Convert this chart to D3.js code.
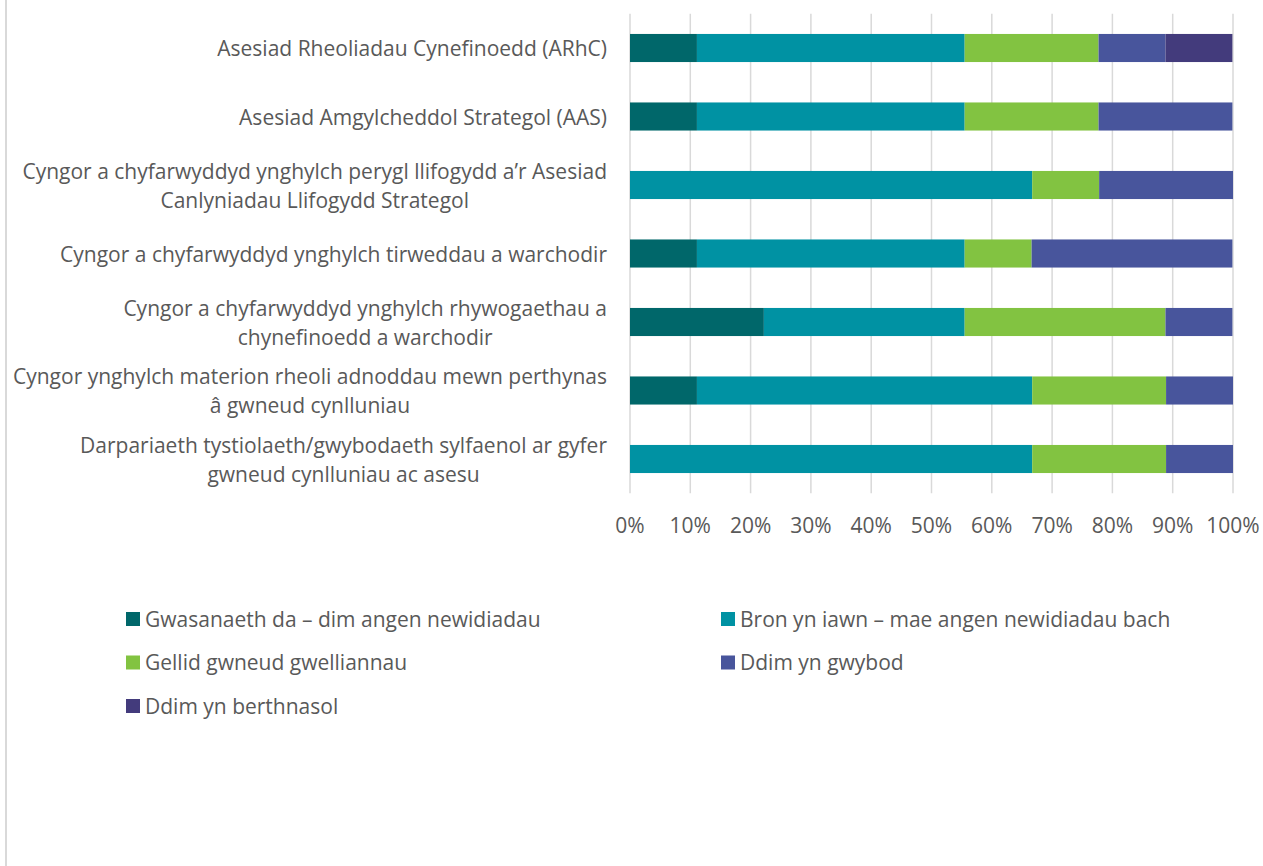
<!DOCTYPE html>
<html>
<head>
<meta charset="utf-8">
<script src="https://cdn.jsdelivr.net/npm/d3@7"></script>
<style>
  body { margin: 0; background: #fff; }
  svg text { font-family: "Open Sans", "Noto Sans", sans-serif; fill: #595959; font-size: 21px; }
</style>
</head>
<body>
<div id="chart"></div>
<script>
// categories, top to bottom (each entry = wrapped lines of the label)
const categories = [
  ['Asesiad Rheoliadau Cynefinoedd (ARhC)'],
  ['Asesiad Amgylcheddol Strategol (AAS)'],
  ['Cyngor a chyfarwyddyd ynghylch perygl llifogydd a\u2019r Asesiad', 'Canlyniadau Llifogydd Strategol'],
  ['Cyngor a chyfarwyddyd ynghylch tirweddau a warchodir'],
  ['Cyngor a chyfarwyddyd ynghylch rhywogaethau a', 'chynefinoedd a warchodir'],
  ['Cyngor ynghylch materion rheoli adnoddau mewn perthynas', '\u00e2 gwneud cynlluniau'],
  ['Darpariaeth tystiolaeth/gwybodaeth sylfaenol ar gyfer', 'gwneud cynlluniau ac asesu']
];

const seriesNames = [
  'Gwasanaeth da \u2013 dim angen newidiadau',
  'Bron yn iawn \u2013 mae angen newidiadau bach',
  'Gellid gwneud gwelliannau',
  'Ddim yn gwybod',
  'Ddim yn berthnasol'
];

// percentages per series, one value per category (same order as categories)
const gwasanaethDa   = [11.1, 11.1,  0.0, 11.1, 22.2, 11.1,  0.0];
const bronYnIawn     = [44.4, 44.4, 66.7, 44.4, 33.3, 55.6, 66.7];
const gellidGwella   = [22.2, 22.2, 11.1, 11.1, 33.3, 22.2, 22.2];
const ddimYnGwybod   = [11.1, 22.2, 22.2, 33.3, 11.1, 11.1, 11.1];
const ddimBerthnasol = [11.1,  0.0,  0.0,  0.0,  0.0,  0.0,  0.0];

const tickValues = [0, 10, 20, 30, 40, 50, 60, 70, 80, 90, 100];

const colors = ['#00676a', '#0092a3', '#82c341', '#48559c', '#433b7c'];

const width = 1263, height = 866;
const margin = {top: 13.75, left: 630, right: 30};
const plotBottom = 493.25;

const svg = d3.select('#chart').append('svg')
    .attr('width', width)
    .attr('height', height);

// outer frame line on the left
svg.append('line')
    .attr('x1', 6).attr('x2', 6)
    .attr('y1', 0).attr('y2', height)
    .attr('stroke', '#d9d9d9')
    .attr('stroke-width', 2);

const x = d3.scaleLinear()
    .domain([0, 100])
    .range([margin.left, 1233]);

const y = d3.scaleBand()
    .domain(d3.range(categories.length))
    .range([margin.top, plotBottom])
    .paddingInner(0.59)
    .paddingOuter(0.295);

// gridlines
svg.append('g')
  .selectAll('line')
  .data(tickValues)
  .join('line')
    .attr('x1', d => x(d)).attr('x2', d => x(d))
    .attr('y1', margin.top).attr('y2', plotBottom)
    .attr('stroke', '#d9d9d9')
    .attr('stroke-width', 1.5);

// tick labels
svg.append('g')
  .selectAll('text')
  .data(tickValues)
  .join('text')
    .attr('x', d => x(d))
    .attr('y', 533)
    .attr('text-anchor', 'middle')
    .text(d => d + '%');

// stacked data
const allSeries = [gwasanaethDa, bronYnIawn, gellidGwella, ddimYnGwybod, ddimBerthnasol];
const rows = categories.map((c, i) => {
  const r = {idx: i};
  allSeries.forEach((s, k) => r['s' + k] = s[i]);
  return r;
});
const stack = d3.stack().keys(allSeries.map((s, k) => 's' + k));
const stacked = stack(rows);

svg.append('g')
  .selectAll('g')
  .data(stacked)
  .join('g')
    .attr('fill', (d, k) => colors[k])
  .selectAll('rect')
  .data(d => d)
  .join('rect')
    .attr('x', d => x(d[0]))
    .attr('y', d => y(d.data.idx))
    .attr('width', d => x(d[1]) - x(d[0]))
    .attr('height', y.bandwidth());

// category labels: block right-aligned, lines centred within block
const lineH = 29;
const labelRight = 607;
const labels = svg.append('g')
  .selectAll('g')
  .data(categories)
  .join('g');

labels.each(function(lines, i) {
  const g = d3.select(this);
  const cy = y(i) + y.bandwidth() / 2;
  const first = cy - (lines.length - 1) * lineH / 2 + 8;
  const texts = g.selectAll('text')
    .data(lines)
    .join('text')
      .attr('y', (d, j) => first + j * lineH)
      .attr('text-anchor', 'middle')
      .text(d => d);
  let maxW = 0;
  texts.each(function() { maxW = Math.max(maxW, this.getComputedTextLength()); });
  texts.attr('x', labelRight - maxW / 2);
});

// legend
const legendPos = [
  {x: 126, y: 612}, {x: 721, y: 612},
  {x: 126, y: 655.5}, {x: 721, y: 655.5},
  {x: 126, y: 699}
];
const legend = svg.append('g')
  .selectAll('g')
  .data(seriesNames)
  .join('g')
    .attr('transform', (d, k) => `translate(${legendPos[k].x},${legendPos[k].y})`);

legend.append('rect')
    .attr('width', 14)
    .attr('height', 14)
    .attr('fill', (d, k) => colors[k]);

legend.append('text')
    .attr('x', 19)
    .attr('y', 14.5)
    .text(d => d);
</script>
</body>
</html>
